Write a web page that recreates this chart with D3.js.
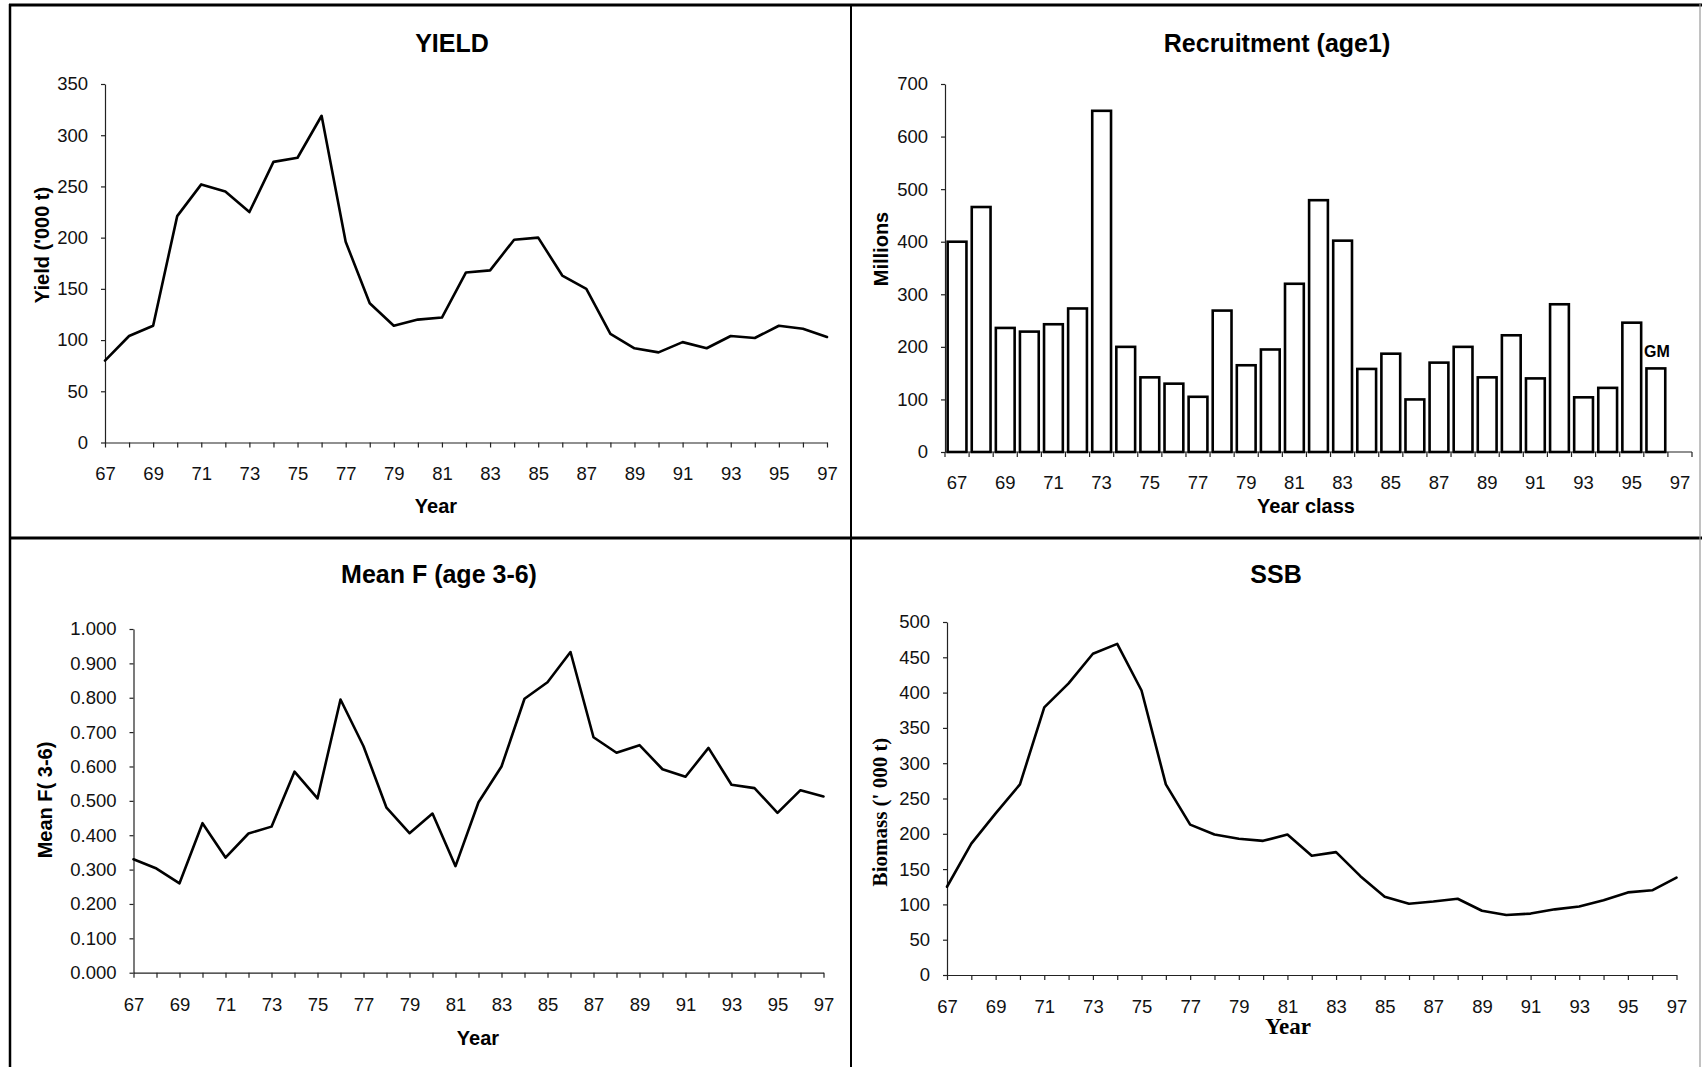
<!DOCTYPE html>
<html>
<head>
<meta charset="utf-8">
<script src="https://cdn.jsdelivr.net/npm/d3@7"></script>
<style>
  body { margin: 0; background: #fff; }
  svg { display: block; }
</style>
</head>
<body>
<svg id="fig" width="1702" height="1067"></svg>
<script>
// ---- data ----
const years = [67, 68, 69, 70, 71, 72, 73, 74, 75, 76, 77, 78, 79, 80, 81, 82,
               83, 84, 85, 86, 87, 88, 89, 90, 91, 92, 93, 94, 95, 96, 97];

// Yield ('000 t)
const yieldValues = [80, 104, 114, 221, 252, 245, 225, 274, 278, 319, 196, 136, 114, 120,
                     122, 166, 168, 198, 200, 163, 150, 106, 92, 88, 98, 92, 104, 102,
                     114, 111, 103];

// Recruitment at age 1 (millions), year classes 67-96; 96 is the geometric mean (GM)
const recruitYears = [67, 68, 69, 70, 71, 72, 73, 74, 75, 76, 77, 78, 79, 80, 81,
                      82, 83, 84, 85, 86, 87, 88, 89, 90, 91, 92, 93, 94, 95, 96];
const recruitValues = [400, 466, 236, 229, 243, 273, 649, 200, 142, 130, 105, 269, 165, 195,
                       320, 479, 402, 158, 187, 100, 170, 200, 142, 222, 140, 281, 104, 122,
                       246, 159];
const recruitNote = "GM";

// Mean F (ages 3-6)
const meanFValues = [0.330, 0.303, 0.260, 0.435, 0.335, 0.405, 0.425, 0.585, 0.507, 0.795,
                     0.659, 0.480, 0.406, 0.463, 0.310, 0.496, 0.600, 0.797, 0.845, 0.933,
                     0.685, 0.640, 0.662, 0.592, 0.570, 0.654, 0.547, 0.537, 0.465, 0.531,
                     0.513];

// Spawning stock biomass ('000 t)
const ssbValues = [125, 186, 229, 270, 379, 413, 455, 469, 403, 270, 213, 199, 193, 190,
                   199, 169, 174, 140, 111, 101, 104, 108, 91, 85, 87, 93, 97, 106, 117,
                   120, 138];

// ---- tick labels ----
const yieldTicks = [0, 50, 100, 150, 200, 250, 300, 350];
const recruitTicks = [0, 100, 200, 300, 400, 500, 600, 700];
const meanFTicks = [0, 0.1, 0.2, 0.3, 0.4, 0.5, 0.6, 0.7, 0.8, 0.9, 1.0];
const ssbTicks = [0, 50, 100, 150, 200, 250, 300, 350, 400, 450, 500];
const yearLabels = ["67", "69", "71", "73", "75", "77", "79", "81", "83", "85", "87", "89",
                    "91", "93", "95", "97"];

// ---- drawing ----
const SANS = '"Liberation Sans", Arial, Helvetica, sans-serif';
const SERIF = '"Liberation Serif", "Times New Roman", Times, serif';
const svg = d3.select("#fig");

// panel frame
const frame = svg.append("g").attr("stroke", "#000").attr("fill", "none");
frame.append("line").attr("x1", 9).attr("x2", 1702).attr("y1", 5).attr("y2", 5).attr("stroke-width", 3);
frame.append("line").attr("x1", 10).attr("x2", 10).attr("y1", 4).attr("y2", 1067).attr("stroke-width", 2.5);
frame.append("line").attr("x1", 851).attr("x2", 851).attr("y1", 4).attr("y2", 1067).attr("stroke-width", 2);
frame.append("line").attr("x1", 9).attr("x2", 1702).attr("y1", 538).attr("y2", 538).attr("stroke-width", 3);
frame.append("line").attr("x1", 1700).attr("x2", 1700).attr("y1", 4).attr("y2", 1067)
  .attr("stroke-width", 1.2).attr("stroke", "#999");

function styleAxis(g, size) {
  g.select(".domain").attr("stroke", "#222").attr("stroke-width", 1.2);
  g.selectAll(".tick line").attr("stroke", "#222").attr("stroke-width", 1.2);
  g.selectAll(".tick text").attr("fill", "#111").style("font-family", SANS)
    .style("font-size", size + "px");
}

function addTitle(text, cx, baseline) {
  svg.append("text").attr("x", cx).attr("y", baseline).attr("text-anchor", "middle")
    .style("font-family", SANS).style("font-weight", "bold").style("font-size", "25px")
    .text(text);
}

function addXTitle(text, cx, baseline, family, size) {
  svg.append("text").attr("x", cx).attr("y", baseline).attr("text-anchor", "middle")
    .style("font-family", family).style("font-weight", "bold").style("font-size", size + "px")
    .text(text);
}

function addYTitle(text, cx, cy, family, size) {
  svg.append("text")
    .attr("transform", `translate(${cx},${cy}) rotate(-90)`)
    .attr("text-anchor", "middle").attr("dy", "0.35em")
    .style("font-family", family).style("font-weight", "bold").style("font-size", size + "px")
    .text(text);
}

function linePanel(cfg) {
  const x = d3.scaleLinear().domain([years[0], years[years.length - 1]]).range([cfg.left, cfg.right]);
  const y = d3.scaleLinear().domain([0, cfg.yMax]).range([cfg.bottom, cfg.top]);

  const yAxis = d3.axisLeft(y).tickValues(cfg.yTicks).tickFormat(cfg.yFormat)
    .tickSize(4).tickSizeOuter(0).tickPadding(13);
  svg.append("g").attr("transform", `translate(${cfg.left},0)`).call(yAxis)
    .call(g => styleAxis(g, 18.5));

  const xAxis = d3.axisBottom(x).tickValues(years)
    .tickFormat(d => yearLabels.includes(String(d)) ? String(d) : "")
    .tickSize(5).tickSizeOuter(0).tickPadding(cfg.xPad);
  svg.append("g").attr("transform", `translate(0,${cfg.bottom})`).call(xAxis)
    .call(g => styleAxis(g, 18.5));

  const line = d3.line().x((d, i) => x(years[i])).y(d => y(d));
  svg.append("path").datum(cfg.values).attr("d", line)
    .attr("fill", "none").attr("stroke", "#000").attr("stroke-width", 2.6)
    .attr("stroke-linejoin", "round").attr("stroke-linecap", "round");
}

// YIELD
linePanel({
  values: yieldValues, yMax: 350, yTicks: yieldTicks, yFormat: d3.format("d"),
  left: 105, right: 827, top: 84, bottom: 442.5, xPad: 19
});
addTitle("YIELD", 452, 52);
addXTitle("Year", 436, 513, SANS, 20);
addYTitle("Yield ('000 t)", 42, 245, SANS, 20);

// Recruitment (age 1)
{
  const x = d3.scaleBand().domain(years).range([945, 1692]).paddingInner(0.22).paddingOuter(0.11);
  const y = d3.scaleLinear().domain([0, 700]).range([452, 84]);

  const yAxis = d3.axisLeft(y).tickValues(recruitTicks).tickFormat(d3.format("d"))
    .tickSize(4).tickSizeOuter(0).tickPadding(13);
  svg.append("g").attr("transform", "translate(945,0)").call(yAxis)
    .call(g => styleAxis(g, 18.5));

  // category axis: ticks sit on the band boundaries, labels in the band centres
  const xg = svg.append("g").attr("transform", "translate(0,452)");
  xg.append("line").attr("x1", x.range()[0]).attr("x2", x.range()[1])
    .attr("stroke", "#222").attr("stroke-width", 1.2);
  const step = x.step();
  const edges = years.map(d => x(d) - step * x.paddingInner() / 2).concat([x.range()[1]]);
  xg.selectAll("line.tk").data(edges).join("line").attr("class", "tk")
    .attr("x1", d => d).attr("x2", d => d).attr("y1", 0).attr("y2", 5)
    .attr("stroke", "#222").attr("stroke-width", 1.2);
  xg.selectAll("text").data(years.filter(d => yearLabels.includes(String(d)))).join("text")
    .attr("x", d => x(d) + x.bandwidth() / 2).attr("y", 24).attr("dy", "0.71em")
    .attr("text-anchor", "middle").attr("fill", "#111")
    .style("font-family", SANS).style("font-size", "18.5px").text(d => d);

  svg.append("g").selectAll("rect").data(recruitYears).join("rect")
    .attr("x", d => x(d)).attr("width", x.bandwidth())
    .attr("y", (d, i) => y(recruitValues[i]))
    .attr("height", (d, i) => y(0) - y(recruitValues[i]))
    .attr("fill", "#fff").attr("stroke", "#000").attr("stroke-width", 2.6);

  const last = recruitYears.length - 1;
  svg.append("text")
    .attr("x", x(recruitYears[last]) + x.bandwidth() / 2 + 1)
    .attr("y", y(recruitValues[last]) - 11)
    .attr("text-anchor", "middle")
    .style("font-family", SANS).style("font-weight", "bold").style("font-size", "16px")
    .text(recruitNote);
}
addTitle("Recruitment (age1)", 1277, 52);
addXTitle("Year class", 1306, 513, SANS, 20);
addYTitle("Millions", 881, 249, SANS, 20);

// Mean F (age 3-6)
linePanel({
  values: meanFValues, yMax: 1.0, yTicks: meanFTicks, yFormat: d3.format(".3f"),
  left: 133.5, right: 823.5, top: 629, bottom: 972.7, xPad: 20
});
addTitle("Mean F (age 3-6)", 439, 583);
addXTitle("Year", 478, 1045, SANS, 20);
addYTitle("Mean F( 3-6)", 45, 800, SANS, 20);

// SSB
linePanel({
  values: ssbValues, yMax: 500, yTicks: ssbTicks, yFormat: d3.format("d"),
  left: 947, right: 1676.5, top: 622, bottom: 975, xPad: 20
});
addTitle("SSB", 1276, 583);
addXTitle("Year", 1288, 1034, SERIF, 23);
addYTitle("Biomass (' 000 t)", 880, 812, SERIF, 21);
</script>
</body>
</html>
